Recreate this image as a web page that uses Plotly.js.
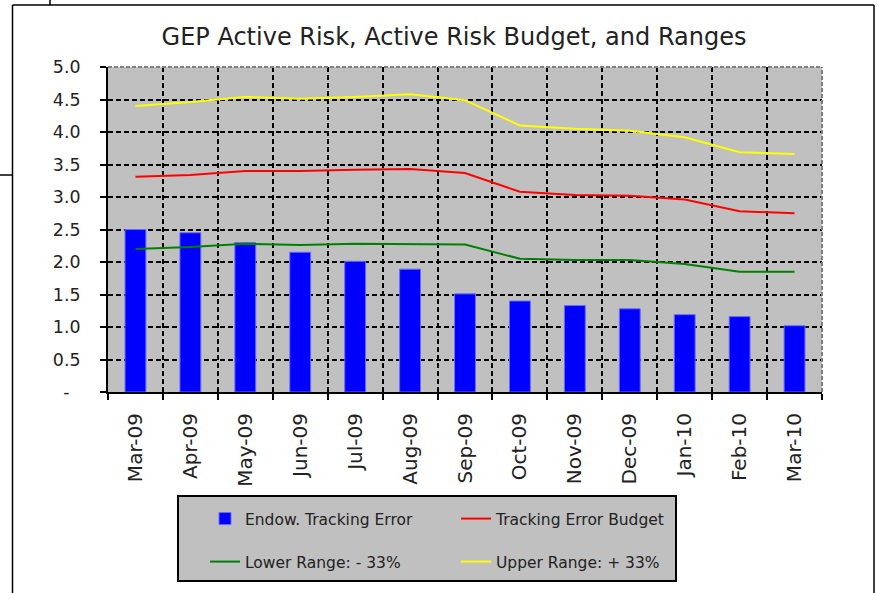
<!DOCTYPE html>
<html>
<head>
<meta charset="utf-8">
<script src="https://cdn.plot.ly/plotly-3.0.1.min.js"></script>
<style>html,body{margin:0;padding:0;background:#fff;}#chart{width:877px;height:593px;}</style>
</head>
<body>
<div id="chart"></div>
<script>
// ---- data ----
var months = ['Mar-09','Apr-09','May-09','Jun-09','Jul-09','Aug-09','Sep-09','Oct-09','Nov-09','Dec-09','Jan-10','Feb-10','Mar-10'];
var trackingError = [2.50,2.45,2.30,2.15,2.01,1.89,1.51,1.40,1.33,1.28,1.19,1.16,1.02];
var budget = [3.31,3.34,3.40,3.40,3.42,3.43,3.37,3.08,3.03,3.02,2.96,2.78,2.75];
var lowerRange = [2.20,2.23,2.28,2.26,2.28,2.28,2.27,2.05,2.03,2.03,1.97,1.85,1.85];
var upperRange = [4.40,4.46,4.54,4.51,4.54,4.58,4.49,4.10,4.05,4.02,3.92,3.69,3.66];
var yTickVals = [0,0.5,1,1.5,2,2.5,3,3.5,4,4.5,5];
var yTickText = ['-\u00a0\u00a0','0.5','1.0','1.5','2.0','2.5','3.0','3.5','4.0','4.5','5.0'];
var seriesNames = ['Endow. Tracking Error','Tracking Error Budget','Lower Range: - 33%','Upper Range: + 33%'];

// ---- layout geometry (pixels) ----
var W = 877, H = 593;
var L = 108, R = 822, T = 67, B = 392;
var pw = R - L, ph = B - T;
function px(x){ return (x - L) / pw; }
function py(y){ return (B - y) / ph; }

var FONT = 'DejaVu Sans, Arial, sans-serif';

var traces = [
  {type:'bar', x:months, y:trackingError, name:seriesNames[0],
   marker:{color:'#0000ff', line:{color:'#6a6aff', width:1}}, legend:'legend'},
  {type:'scatter', mode:'lines', x:months, y:budget, name:seriesNames[1],
   line:{color:'#ff0000', width:2}, legend:'legend'},
  {type:'scatter', mode:'lines', x:months, y:lowerRange, name:seriesNames[2],
   line:{color:'#008000', width:2}, legend:'legend2'},
  {type:'scatter', mode:'lines', x:months, y:upperRange, name:seriesNames[3],
   line:{color:'#ffff00', width:2}, legend:'legend2'}
];

var legendCommon = {
  orientation:'h', xanchor:'left', yanchor:'middle',
  bgcolor:'rgba(0,0,0,0)', borderwidth:0,
  font:{family:FONT, size:15.5, color:'#222'},
  entrywidth:206, entrywidthmode:'pixels', traceorder:'normal'
};

var layout = {
  width:W, height:H,
  paper_bgcolor:'#ffffff', plot_bgcolor:'#c0c0c0',
  margin:{l:L, r:W-R, t:T, b:H-B, pad:0},
  bargap:0.62,
  showlegend:true,
  title:{text:'GEP Active Risk, Active Risk Budget, and Ranges',
         font:{family:FONT, size:24, color:'#222'},
         xref:'container', x:454/W, xanchor:'center',
         yref:'container', y:1-37/H, yanchor:'middle'},
  xaxis:{type:'category', tickson:'boundaries', ticks:'outside', ticklen:6, tickwidth:2, tickcolor:'#000',
         showline:true, linecolor:'#000', linewidth:2,
         showgrid:true, gridcolor:'#000', gridwidth:2, griddash:'5px,3px',
         tickangle:-90, tickfont:{family:FONT, size:20, color:'#222'}, ticklabelstandoff:11,
         automargin:false},
  yaxis:{range:[0,5], tickvals:yTickVals, ticktext:yTickText, ticks:'outside', ticklen:6, tickwidth:2, tickcolor:'#000',
         showline:true, linecolor:'#000', linewidth:2, zeroline:false,
         showgrid:true, gridcolor:'#000', gridwidth:2, griddash:'5px,3px',
         tickfont:{family:FONT, size:17.4, color:'#222'}, ticklabelstandoff:16,
         automargin:false},
  legend:Object.assign({}, legendCommon, {x:px(205), y:py(519)}),
  legend2:Object.assign({}, legendCommon, {x:px(205), y:py(562)}),
  shapes:[
    // outer chart frame
    {type:'line', xref:'paper', yref:'paper', x0:px(12.5), x1:px(12.5), y0:py(5), y1:py(600), line:{color:'#000', width:1.5}},
    {type:'line', xref:'paper', yref:'paper', x0:px(12.5), x1:px(874), y0:py(5), y1:py(5), line:{color:'#000', width:1.5}},
    {type:'line', xref:'paper', yref:'paper', x0:px(874), x1:px(874), y0:py(5), y1:py(600), line:{color:'#000', width:1.5}},
    {type:'line', xref:'paper', yref:'paper', x0:px(50), x1:px(50), y0:py(-2), y1:py(5), line:{color:'#000', width:1.5}},
    {type:'line', xref:'paper', yref:'paper', x0:px(-2), x1:px(12.5), y0:py(175), y1:py(175), line:{color:'#000', width:1.5}},
    // legend box
    {type:'rect', xref:'paper', yref:'paper', layer:'below', x0:px(178), x1:px(676), y0:py(581), y1:py(496),
     fillcolor:'#c0c0c0', line:{color:'#000', width:2}},
    // plot area top/right edges (gray dashed)
    {type:'line', xref:'paper', yref:'paper', x0:0, x1:1, y0:1, y1:1, line:{color:'#808080', width:2, dash:'4px,2px'}},
    {type:'line', xref:'paper', yref:'paper', x0:1, x1:1, y0:0, y1:1, line:{color:'#808080', width:2, dash:'4px,2px'}}
  ]
};

Plotly.newPlot('chart', traces, layout, {staticPlot:true, displayModeBar:false});
</script>
</body>
</html>
